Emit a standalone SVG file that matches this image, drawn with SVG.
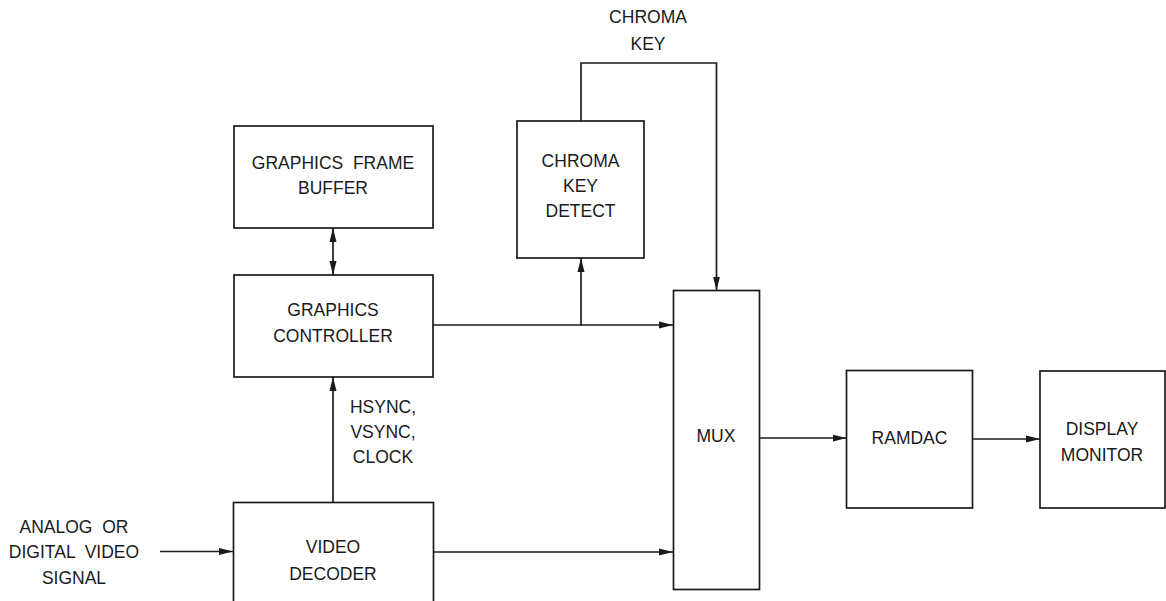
<svg xmlns="http://www.w3.org/2000/svg" width="1166" height="601" viewBox="0 0 1166 601">
<style>
.box{fill:#fff;stroke:#1a1a1a;stroke-width:1.7}
.ln{fill:none;stroke:#1a1a1a;stroke-width:1.7}
text{font-family:"Liberation Sans",Arial,sans-serif;font-size:17.5px;fill:#1a1a1a;text-anchor:middle;white-space:pre}
</style>
<defs>
<marker id="ah" viewBox="0 0 14 8" refX="14" refY="4" markerWidth="14" markerHeight="8" markerUnits="userSpaceOnUse" orient="auto-start-reverse">
<path d="M0,0.5 L14,4 L0,7.5 Z" fill="#1a1a1a"/>
</marker>
</defs>
<rect width="1166" height="601" fill="#fff"/>
<g id="connectors">
<line class="ln" x1="333" y1="228" x2="333" y2="275" marker-start="url(#ah)" marker-end="url(#ah)"/>
<line class="ln" x1="333" y1="502" x2="333" y2="377" marker-end="url(#ah)"/>
<line class="ln" x1="433" y1="325" x2="673" y2="325" marker-end="url(#ah)"/>
<line class="ln" x1="581" y1="325" x2="581" y2="258" marker-end="url(#ah)"/>
<polyline class="ln" points="581,121 581,63 716.5,63 716.5,290.5" marker-end="url(#ah)"/>
<line class="ln" x1="433" y1="552" x2="673" y2="552" marker-end="url(#ah)"/>
<line class="ln" x1="160" y1="551.5" x2="233" y2="551.5" marker-end="url(#ah)"/>
<line class="ln" x1="759" y1="438" x2="846.5" y2="438" marker-end="url(#ah)"/>
<line class="ln" x1="973" y1="439" x2="1040" y2="439" marker-end="url(#ah)"/>
</g>
<g id="label-chroma-key">
<text x="648" y="23">CHROMA</text>
<text x="648" y="50">KEY</text>
</g>
<g id="label-sync">
<text x="383" y="412.5">HSYNC,</text>
<text x="383" y="438">VSYNC,</text>
<text x="383" y="463">CLOCK</text>
</g>
<g id="label-input">
<text x="74" y="533" xml:space="preserve">ANALOG  OR</text>
<text x="74" y="558" xml:space="preserve">DIGITAL  VIDEO</text>
<text x="74" y="584">SIGNAL</text>
</g>
<g id="frame-buffer">
<rect class="box" x="234" y="126" width="199" height="102"/>
<text x="333" y="169" xml:space="preserve">GRAPHICS  FRAME</text>
<text x="333" y="194">BUFFER</text>
</g>
<g id="graphics-controller">
<rect class="box" x="234" y="275" width="199" height="102"/>
<text x="333" y="316">GRAPHICS</text>
<text x="333" y="342">CONTROLLER</text>
</g>
<g id="chroma-key-detect">
<rect class="box" x="517" y="121" width="127" height="137"/>
<text x="580.5" y="166.5">CHROMA</text>
<text x="580.5" y="191.5">KEY</text>
<text x="580.5" y="217">DETECT</text>
</g>
<g id="video-decoder">
<rect class="box" x="233.5" y="502.5" width="200" height="110"/>
<text x="333" y="553">VIDEO</text>
<text x="333" y="580">DECODER</text>
</g>
<g id="mux">
<rect class="box" x="673.5" y="290.5" width="86" height="299"/>
<text x="716" y="442">MUX</text>
</g>
<g id="ramdac">
<rect class="box" x="846.5" y="370.5" width="126" height="137.5"/>
<text x="909.5" y="444">RAMDAC</text>
</g>
<g id="display-monitor">
<rect class="box" x="1040" y="371" width="125" height="137"/>
<text x="1102" y="435">DISPLAY</text>
<text x="1102" y="461">MONITOR</text>
</g>
</svg>
